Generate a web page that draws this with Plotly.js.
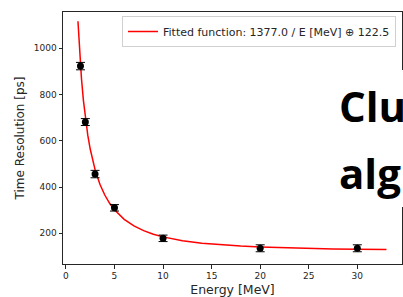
<!DOCTYPE html>
<html>
<head>
<meta charset="utf-8">
<script src="https://cdn.plot.ly/plotly-3.0.1.min.js"></script>
<style>html,body{margin:0;padding:0;background:#fff;}#chart{width:403px;height:297px;}</style>
</head>
<body>
<div id="chart"></div>
<script>
// Measured points
const energies = [1.5, 2, 3, 5, 10, 20, 30];
const resolution = [923, 681, 456, 310, 178, 135, 135];
const resErr = [16, 15, 16, 14, 14, 15, 15];

// Fitted function parameters (from legend): A / E (+) B
const fitA = 1377.0;
const fitB = 122.5;
const fitEnergies = [1.24, 1.3, 1.4, 1.5, 1.6, 1.8, 2, 2.25, 2.5, 2.75, 3, 3.5, 4, 4.5, 5, 6, 7, 8, 9, 10, 12, 14, 16, 18, 20, 22.5, 25, 27.5, 30, 33];
const fitValues = fitEnergies.map(e => Math.sqrt(Math.pow(fitA / e, 2) + fitB * fitB));

const xTicks = [0, 5, 10, 15, 20, 25, 30];
const yTicks = [200, 400, 600, 800, 1000];
const legendLabel = 'Fitted function: 1377.0 / E [MeV] \u2295 122.5';
const overlayLines = ['Clu', 'alg'];

const W = 403, H = 297;
const mL = 63, mR = 1, mT = 12, mB = 33;
const pw = W - mL - mR, ph = H - mT - mB;
const px = x => (x - mL) / pw;
const py = y => (H - mB - y) / ph;

const traces = [
  {
    x: fitEnergies, y: fitValues, type: 'scatter', mode: 'lines',
    line: {color: '#ff0000', width: 1.5},
    name: legendLabel, showlegend: true, hoverinfo: 'skip'
  },
  {
    x: energies, y: resolution, type: 'scatter', mode: 'markers',
    marker: {color: '#000', size: 7, symbol: 'circle'},
    error_y: {type: 'data', array: resErr, visible: true, color: '#000', thickness: 1, width: 4.5},
    showlegend: false
  }
];

const axisCommon = {
  showgrid: false, zeroline: false, showline: true, mirror: true,
  linecolor: '#262626', linewidth: 1,
  ticks: 'outside', ticklen: 3.5, tickwidth: 1, tickcolor: '#262626',
  tickfont: {family: 'DejaVu Sans', size: 9, color: '#262626'}
};

const layout = {
  width: W, height: H,
  margin: {l: mL, r: mR, t: mT, b: mB, pad: 0},
  paper_bgcolor: '#fff', plot_bgcolor: '#fff',
  font: {family: 'DejaVu Sans', color: '#262626'},
  xaxis: Object.assign({}, axisCommon, {
    range: [-0.3, 34.6], tickvals: xTicks, ticktext: xTicks.map(String),
    title: {text: 'Energy [MeV]', font: {family: 'DejaVu Sans', size: 12.5, color: '#262626'}, standoff: 4}
  }),
  yaxis: Object.assign({}, axisCommon, {
    range: [67, 1157], tickvals: yTicks, ticktext: yTicks.map(String),
    title: {text: 'Time Resolution [ps]', font: {family: 'DejaVu Sans', size: 12, color: '#262626'}, standoff: 6}
  }),
  legend: {
    x: px(396), y: py(16), xanchor: 'right', yanchor: 'top',
    bgcolor: 'rgba(255,255,255,0.8)', bordercolor: '#d0d0d0', borderwidth: 1,
    font: {family: 'DejaVu Sans', size: 11, color: '#262626'},
    itemwidth: 30, tracegroupgap: 0
  },
  shapes: [{
    type: 'rect', xref: 'paper', yref: 'paper', layer: 'above',
    x0: px(328), x1: px(410), y0: py(207), y1: py(70),
    fillcolor: '#fff', line: {width: 0}
  }],
  annotations: overlayLines.map((t, i) => ({
    text: '<b>' + t + '</b>', xref: 'paper', yref: 'paper',
    x: px(337), y: py(i === 0 ? 105 : 172), xanchor: 'left', yanchor: 'middle',
    showarrow: false, font: {family: 'Open Sans', size: 42, color: '#000'}
  }))
};

Plotly.newPlot('chart', traces, layout, {displayModeBar: false, staticPlot: true});
</script>
</body>
</html>
